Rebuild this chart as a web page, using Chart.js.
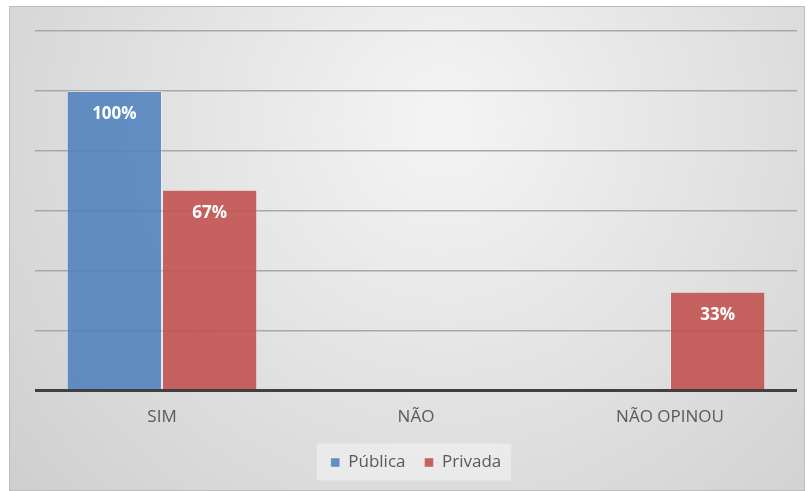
<!DOCTYPE html>
<html>
<head>
<meta charset="utf-8">
<script src="https://cdn.jsdelivr.net/npm/chart.js@4/dist/chart.umd.min.js"></script>
<style>
  html, body { margin: 0; padding: 0; background: #fff; }
  canvas { display: block; }
</style>
</head>
<body>
<canvas id="respostas" width="808" height="491"></canvas>
<script>
const categorias = ['SIM', 'NÃO', 'NÃO OPINOU']
const publica = [100, 0, 0]
const privada = [67, 0, 33]
const yTicks = [0, 20, 40, 60, 80, 100, 120]

const fonte = "'Open Sans', 'Noto Sans', sans-serif"

// fundo degradê com moldura
const fundo = {
  id: 'fundo',
  beforeDraw (chart) {
    const { ctx, width, height } = chart
    ctx.save()
    const g = ctx.createRadialGradient(width * 0.55, height * 0.25, 10, width * 0.55, height * 0.25, width * 0.7)
    g.addColorStop(0, '#f4f4f4')
    g.addColorStop(1, '#cfcfcf')
    ctx.fillStyle = '#ffffff'
    ctx.fillRect(0, 0, width, height)
    ctx.fillStyle = g
    ctx.fillRect(9, 6, width - 12, height - 6)
    ctx.strokeStyle = '#bdbdbd'
    ctx.lineWidth = 1
    ctx.strokeRect(9.5, 6.5, width - 13, height - 7)
    // caixa da legenda
    const lg = chart.legend
    if (lg && lg.legendHitBoxes.length) {
      const boxes = lg.legendHitBoxes
      const x0 = boxes[0].left - 14
      const x1 = boxes[boxes.length - 1].left + boxes[boxes.length - 1].width + 10
      const yc = boxes[0].top + boxes[0].height / 2
      ctx.fillStyle = 'rgba(240,240,240,0.7)'
      ctx.fillRect(x0, yc - 19, x1 - x0, 37)
    }
    ctx.restore()
  }
}

// rótulos de valor dentro das barras
const rotulos = {
  id: 'rotulos',
  afterDatasetsDraw (chart) {
    const { ctx } = chart
    ctx.save()
    ctx.font = 'bold 17px ' + fonte
    ctx.fillStyle = '#ffffff'
    ctx.textAlign = 'center'
    ctx.textBaseline = 'middle'
    chart.data.datasets.forEach((ds, i) => {
      chart.getDatasetMeta(i).data.forEach((bar, j) => {
        const v = ds.data[j]
        if (!v) return
        ctx.fillText(v + '%', bar.x, bar.y + 23)
      })
    })
    ctx.restore()
  }
}

new Chart(document.getElementById('respostas'), { // eslint-disable-line
  type: 'bar',
  data: {
    labels: categorias,
    datasets: [{
      label: 'Pública',
      data: publica,
      backgroundColor: 'rgba(79,129,189,0.88)',
      borderColor: 'rgba(255,255,255,0.35)',
      borderWidth: 1
    }, {
      label: 'Privada',
      data: privada,
      backgroundColor: 'rgba(192,80,77,0.88)',
      borderColor: 'rgba(255,255,255,0.35)',
      borderWidth: 1
    }]
  },
  options: {
    responsive: false,
    animation: false,
    datasets: {
      bar: { categoryPercentage: 0.75, barPercentage: 1 }
    },
    layout: { padding: { left: 35, right: 11, top: 31, bottom: 10 } },
    plugins: {
      legend: {
        position: 'bottom',
        labels: {
          boxWidth: 9,
          boxHeight: 9,
          padding: 19,
          color: '#595959',
          font: { family: fonte, size: 17 }
        }
      },
      tooltip: { enabled: false }
    },
    scales: {
      x: {
        grid: { display: false },
        border: { display: false },
        ticks: { color: '#595959', padding: 8, font: { family: fonte, size: 17 } }
      },
      y: {
        min: 0,
        max: 120,
        afterBuildTicks: axis => { axis.ticks = yTicks.map(v => ({ value: v })) },
        ticks: { display: false },
        border: { display: false },
        grid: {
          drawTicks: false,
          color: ctx => ctx.tick.value === 0 ? '#404040' : '#a8a8a8',
          lineWidth: ctx => ctx.tick.value === 0 ? 3 : 1.5
        }
      }
    }
  },
  plugins: [fundo, rotulos]
})
</script>
</body>
</html>
